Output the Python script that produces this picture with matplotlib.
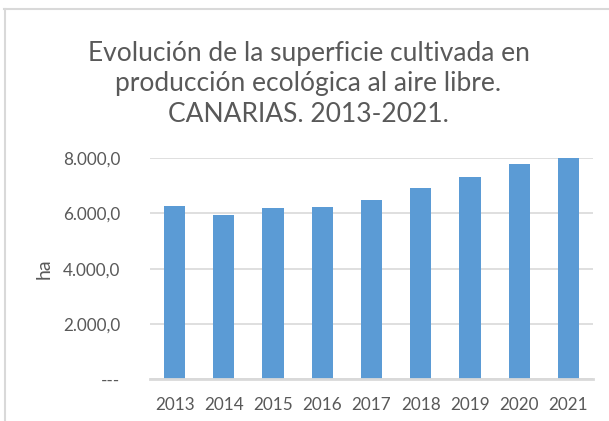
import matplotlib
matplotlib.use("Agg")
import matplotlib.pyplot as plt
from matplotlib.ticker import FuncFormatter, MultipleLocator
from matplotlib.lines import Line2D

years = ["2013", "2014", "2015", "2016", "2017", "2018", "2019", "2020", "2021"]
superficie_ha = [6270, 5935, 6185, 6235, 6490, 6935, 7310, 7780, 8010]

title = "Evolución de la superficie cultivada en\nproducción ecológica al aire libre.\nCANARIAS. 2013-2021."
ylabel = "ha"

plt.rcParams['font.family'] = ['Lato', 'DejaVu Sans']
TEXT = "#595959"
GRID = "#D9D9D9"
BAR = "#5B9BD5"

W, H = 609, 421
fig = plt.figure(figsize=(W / 100, H / 100), dpi=100)
ax = fig.add_axes([150 / W, 1 - 379 / H, (593 - 150) / W, (379 - 158.3) / H])

x = range(len(years))
ax.bar(x, superficie_ha, width=0.43, color=BAR, zorder=3)
ax.set_xlim(-0.5, len(years) - 0.5)
ax.set_ylim(0, 8000)
ax.yaxis.set_major_locator(MultipleLocator(2000))

def fmt(v, pos):
    if abs(v) < 1e-9:
        return "---"
    s = f"{v:,.1f}"
    return s.replace(",", "X").replace(".", ",").replace("X", ".")

ax.yaxis.set_major_formatter(FuncFormatter(fmt))
ax.set_xticks(list(x))
ax.set_xticklabels(years)
ax.grid(axis="y", color=GRID, linewidth=1.2, zorder=0)
for s in ["top", "right", "left"]:
    ax.spines[s].set_visible(False)
ax.spines["bottom"].set_color(GRID)
ax.spines["bottom"].set_linewidth(2)
ax.spines["bottom"].set_zorder(4)
ax.tick_params(axis="both", length=0, labelcolor=TEXT, labelsize=12.3)
ax.tick_params(axis="y", pad=21.5)
ax.tick_params(axis="x", pad=13)
ax.set_ylabel(ylabel, color=TEXT, fontsize=14, labelpad=7)

fig.text(0.5 + 4 / W, 1 - 122.5 / H, title, ha="center", va="baseline", color=TEXT,
         fontsize=19, linespacing=1.3)

fig.add_artist(Line2D([4 / W, 1], [1 - 9 / H, 1 - 9 / H], color=GRID, linewidth=1.5))
fig.add_artist(Line2D([5 / W, 5 / W], [0, 1 - 9 / H], color=GRID, linewidth=1.5))

fig.savefig("out.png", dpi=100)
